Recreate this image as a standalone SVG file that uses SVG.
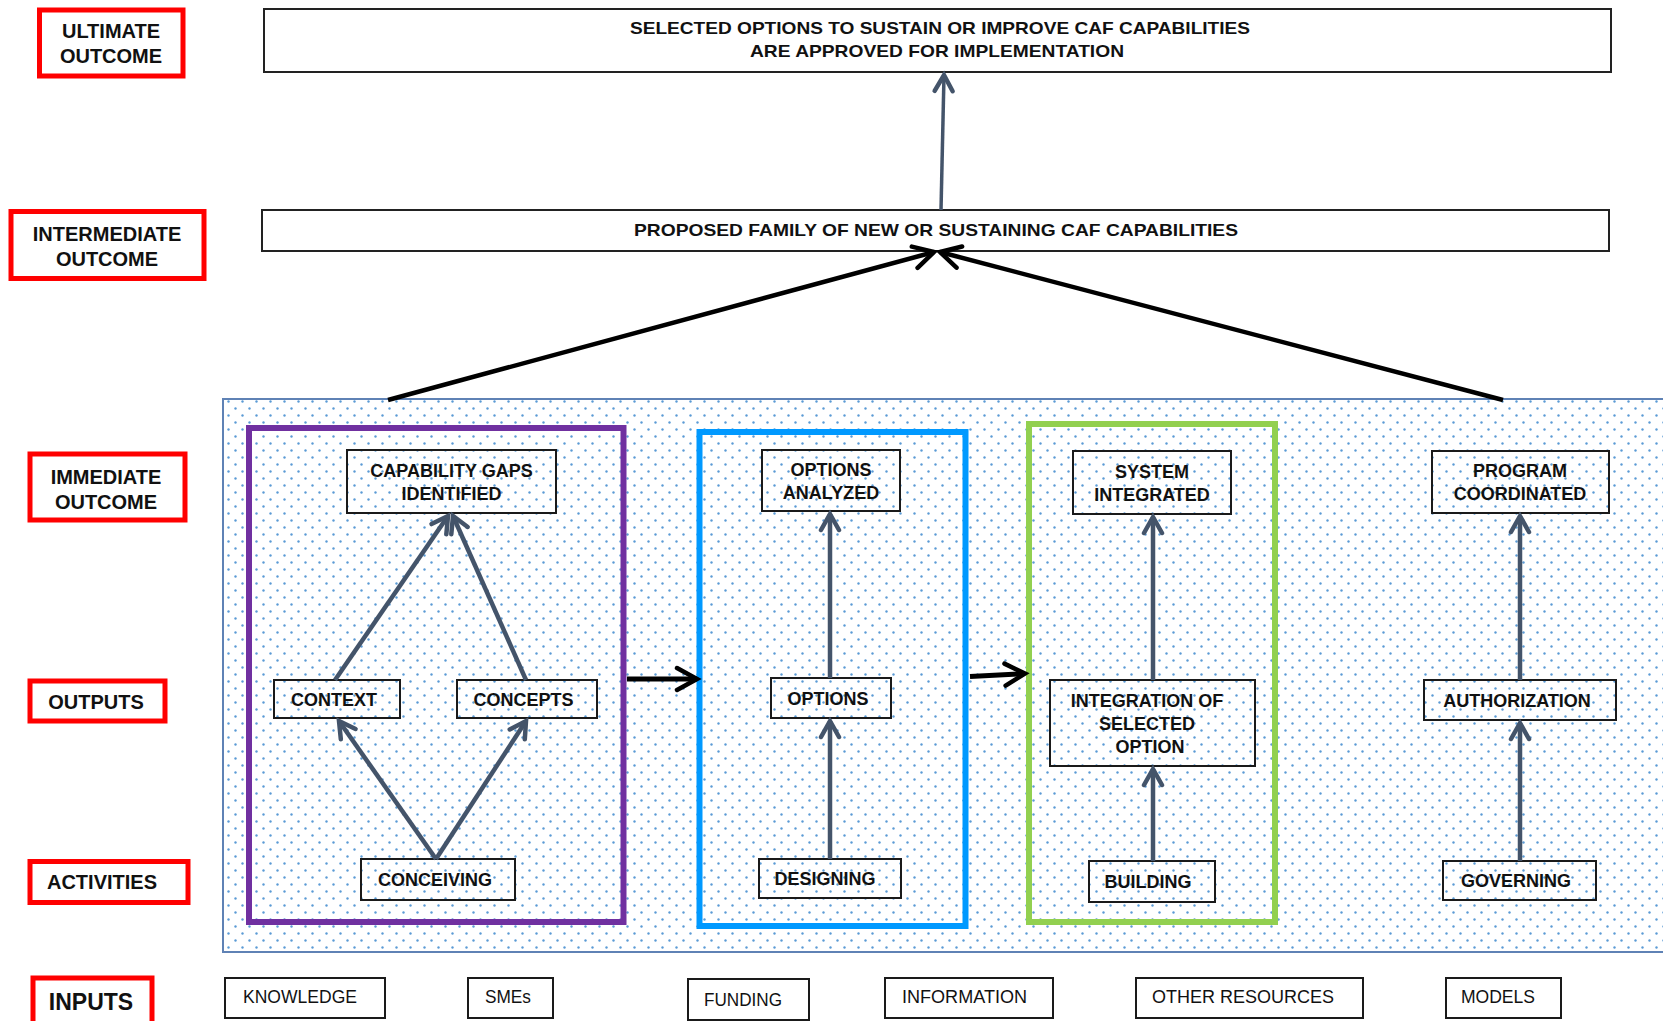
<svg xmlns="http://www.w3.org/2000/svg" width="1663" height="1021" viewBox="0 0 1663 1021">
<defs>
<style>
.lbl{font-family:"Liberation Sans",Arial,sans-serif;font-weight:bold;font-size:20px;text-anchor:middle;fill:#111}
.red{fill:#fff;stroke:#FF0000;stroke-width:5}
.box{fill:none;stroke:#1a1a1a;stroke-width:2}
.wbox{fill:#fff;stroke:#222;stroke-width:2}
.nt{font-family:"Liberation Sans",Arial,sans-serif;font-weight:bold;font-size:18px;text-anchor:middle;fill:#111}
.tt{font-family:"Liberation Sans",Arial,sans-serif;font-weight:bold;font-size:17px;text-anchor:middle;fill:#111}
.it{font-family:"Liberation Sans",Arial,sans-serif;font-size:18px;fill:#111}
.gray{stroke:#44546A;stroke-width:4.5;fill:none;marker-end:url(#ag)}
.blk{stroke:#000;stroke-width:4.5;fill:none;marker-end:url(#ab)}
</style>
<pattern id="dots" width="14" height="14" patternUnits="userSpaceOnUse" x="1" y="6">
<circle cx="3.5" cy="3.5" r="1.2" fill="#5B9BD5"/>
<circle cx="10.5" cy="10.5" r="1.2" fill="#5B9BD5"/>
</pattern>
<marker id="ag" viewBox="0 0 32 24" refX="22" refY="12" markerWidth="32" markerHeight="24" markerUnits="userSpaceOnUse" orient="auto">
<path d="M6,3 L22,12 L6,21" fill="none" stroke="#44546A" stroke-width="4.5" stroke-linecap="round"/>
</marker>
<marker id="ab" viewBox="0 0 36 28" refX="26" refY="14" markerWidth="36" markerHeight="28" markerUnits="userSpaceOnUse" orient="auto">
<path d="M6,3 L26,14 L6,25" fill="none" stroke="#000" stroke-width="4.5" stroke-linecap="round"/>
</marker>
</defs>
<rect x="0" y="0" width="1663" height="1021" fill="#fff"/>

<g id="background-area">
<rect x="223" y="399" width="1470" height="553" fill="url(#dots)" stroke="#5F82B5" stroke-width="2"/>
</g>

<g id="stage-boxes">
<rect id="stage-conceive" x="249" y="428" width="374.5" height="494" fill="none" stroke="#7030A0" stroke-width="6"/>
<rect id="stage-design" x="699.5" y="432" width="266" height="494" fill="none" stroke="#0099FF" stroke-width="6"/>
<rect id="stage-build" x="1029" y="424" width="246" height="498" fill="none" stroke="#92D050" stroke-width="6"/>
</g>

<g id="label-ultimate"><rect class="red" x="39.5" y="10" width="143.5" height="66"/><text class="lbl" x="111" y="37.5">ULTIMATE</text><text class="lbl" x="111" y="62.5">OUTCOME</text></g>
<g id="label-intermediate"><rect class="red" x="11" y="211.5" width="193" height="67"/><text class="lbl" x="107" y="241">INTERMEDIATE</text><text class="lbl" x="107" y="266">OUTCOME</text></g>
<g id="label-immediate"><rect class="red" x="30" y="454" width="155" height="66"/><text class="lbl" x="106" y="484">IMMEDIATE</text><text class="lbl" x="106" y="509">OUTCOME</text></g>
<g id="label-outputs"><rect class="red" x="30" y="681" width="135" height="40"/><text class="lbl" x="96" y="709">OUTPUTS</text></g>
<g id="label-activities"><rect class="red" x="30" y="861.5" width="158" height="41"/><text class="lbl" x="102" y="889">ACTIVITIES</text></g>
<g id="label-inputs"><rect class="red" x="33" y="978" width="119" height="50"/><text class="lbl" x="91" y="1010" style="font-size:23px">INPUTS</text></g>

<g id="ultimate-outcome"><rect class="wbox" x="264" y="9" width="1347" height="63"/>
<text class="tt" x="940" y="34" textLength="620" lengthAdjust="spacingAndGlyphs">SELECTED  OPTIONS TO SUSTAIN OR IMPROVE CAF CAPABILITIES</text>
<text class="tt" x="937" y="57" textLength="374" lengthAdjust="spacingAndGlyphs">ARE APPROVED  FOR  IMPLEMENTATION</text></g>
<g id="intermediate-outcome"><rect class="wbox" x="262" y="210" width="1347" height="41"/>
<text class="tt" x="936" y="236" textLength="604" lengthAdjust="spacingAndGlyphs">PROPOSED  FAMILY OF NEW  OR  SUSTAINING  CAF CAPABILITIES</text></g>

<g id="capability-gaps"><rect class="box" x="347" y="450" width="209" height="63"/><text class="nt" x="451.5" y="476.5">CAPABILITY GAPS</text><text class="nt" x="451.5" y="499.5">IDENTIFIED</text></g>
<g id="context"><rect class="box" x="274" y="680" width="126" height="38"/><text class="nt" x="334" y="705.5">CONTEXT</text></g>
<g id="concepts"><rect class="box" x="457" y="680" width="140" height="38"/><text class="nt" x="523.5" y="705.5">CONCEPTS</text></g>
<g id="conceiving"><rect class="box" x="361" y="859" width="154" height="41"/><text class="nt" x="435" y="886">CONCEIVING</text></g>

<g id="options-analyzed"><rect class="box" x="762" y="450" width="138" height="61"/><text class="nt" x="831" y="475.5">OPTIONS</text><text class="nt" x="831" y="498.5">ANALYZED</text></g>
<g id="options"><rect class="box" x="771" y="678" width="120" height="40"/><text class="nt" x="828" y="704.5">OPTIONS</text></g>
<g id="designing"><rect class="box" x="759" y="859" width="142" height="39"/><text class="nt" x="825" y="885">DESIGNING</text></g>

<g id="system-integrated"><rect class="box" x="1073" y="451" width="158" height="63"/><text class="nt" x="1152" y="477.5">SYSTEM</text><text class="nt" x="1152" y="500.5">INTEGRATED</text></g>
<g id="integration"><rect class="box" x="1050" y="680" width="205" height="86"/><text class="nt" x="1147" y="706.5">INTEGRATION OF</text><text class="nt" x="1147" y="729.5">SELECTED</text><text class="nt" x="1150" y="752.5">OPTION</text></g>
<g id="building"><rect class="box" x="1089" y="861" width="126" height="41"/><text class="nt" x="1148" y="888">BUILDING</text></g>

<g id="program-coordinated"><rect class="box" x="1432" y="451" width="177" height="62"/><text class="nt" x="1520" y="477">PROGRAM</text><text class="nt" x="1520" y="500">COORDINATED</text></g>
<g id="authorization"><rect class="box" x="1424" y="680" width="192" height="40"/><text class="nt" x="1517" y="706.5">AUTHORIZATION</text></g>
<g id="governing"><rect class="box" x="1443" y="861" width="153" height="39"/><text class="nt" x="1516" y="887">GOVERNING</text></g>

<g id="input-knowledge"><rect class="box" x="225" y="978" width="160" height="40"/><text class="it" x="243" y="1003" textLength="114" lengthAdjust="spacingAndGlyphs">KNOWLEDGE</text></g>
<g id="input-smes"><rect class="box" x="468" y="978" width="85" height="40"/><text class="it" x="485" y="1003" textLength="46" lengthAdjust="spacingAndGlyphs">SMEs</text></g>
<g id="input-funding"><rect class="box" x="688" y="979" width="121" height="41"/><text class="it" x="704" y="1006" textLength="78" lengthAdjust="spacingAndGlyphs">FUNDING</text></g>
<g id="input-information"><rect class="box" x="885" y="978" width="168" height="40"/><text class="it" x="902" y="1003" textLength="125" lengthAdjust="spacingAndGlyphs">INFORMATION</text></g>
<g id="input-other"><rect class="box" x="1136" y="978" width="227" height="40"/><text class="it" x="1152" y="1003" textLength="182" lengthAdjust="spacingAndGlyphs">OTHER  RESOURCES</text></g>
<g id="input-models"><rect class="box" x="1446" y="978" width="115" height="40"/><text class="it" x="1461" y="1003" textLength="74" lengthAdjust="spacingAndGlyphs">MODELS</text></g>

<g id="connectors">
<line class="gray" x1="335" y1="680" x2="448" y2="516"/>
<line class="gray" x1="526" y1="680" x2="453" y2="516"/>
<line class="gray" x1="436" y1="859" x2="339" y2="721"/>
<line class="gray" x1="436" y1="859" x2="526" y2="721"/>
<line class="gray" x1="830" y1="678" x2="830" y2="514"/>
<line class="gray" x1="830" y1="859" x2="830" y2="721"/>
<line class="gray" x1="1153" y1="680" x2="1153" y2="517"/>
<line class="gray" x1="1153" y1="861" x2="1153" y2="769"/>
<line class="gray" x1="1520" y1="680" x2="1520" y2="516"/>
<line class="gray" x1="1520" y1="861" x2="1520" y2="723"/>
<line class="gray" x1="941" y1="210" x2="944" y2="75" style="stroke-width:3.5"/>
<line class="blk" x1="627" y1="679" x2="697" y2="679" style="stroke-width:5"/>
<line class="blk" x1="970" y1="676.5" x2="1025" y2="673.5" style="stroke-width:5"/>
<line class="blk" x1="388" y1="400" x2="934" y2="252"/>
<line class="blk" x1="1503" y1="400" x2="940" y2="252"/>
</g>
</svg>
